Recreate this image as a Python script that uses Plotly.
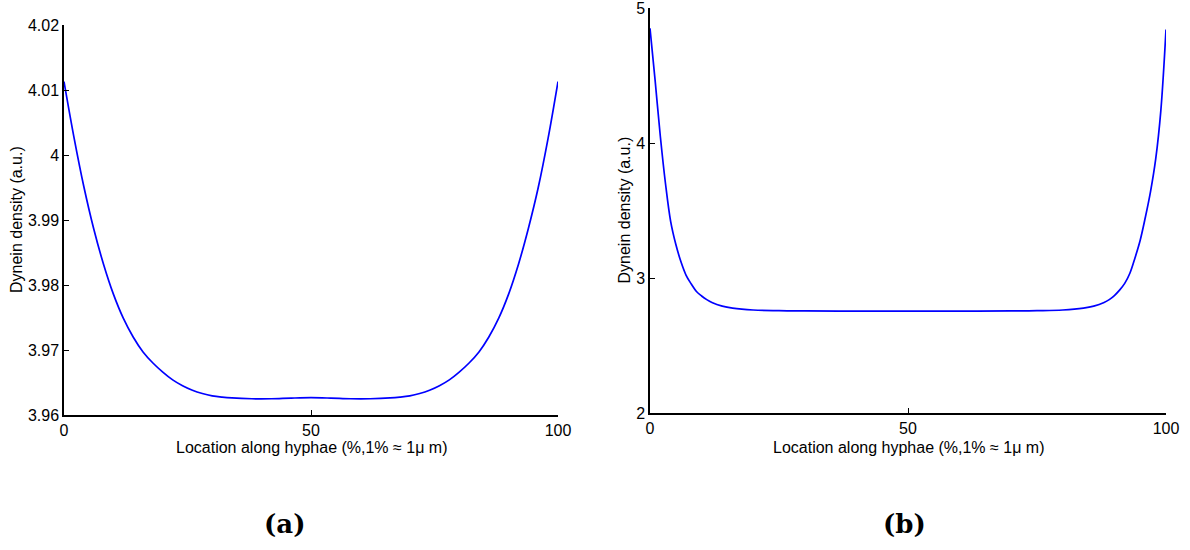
import plotly.graph_objects as go

# Panel (a)
xa = [0, 2, 4, 6, 8, 10, 12, 14, 16, 18, 20, 22, 24, 26, 28, 30, 32, 34, 38,
      42, 46, 50, 54, 58, 62, 66, 68, 70, 72, 74, 76, 78, 80, 82, 84, 86, 88,
      90, 92, 94, 96, 98, 100]
ya = [4.0113, 4.0028, 3.9952, 3.9887, 3.9832, 3.9786, 3.9749, 3.9720, 3.9697,
      3.9680, 3.9666, 3.9654, 3.9645, 3.9638, 3.9633, 3.96295, 3.96275,
      3.96262, 3.96250, 3.96250, 3.96260, 3.96266, 3.96260, 3.96250, 3.96250,
      3.96262, 3.96275, 3.96295, 3.9633, 3.9638, 3.9645, 3.9654, 3.9666,
      3.9680, 3.9697, 3.9720, 3.9749, 3.9786, 3.9832, 3.9887, 3.9950, 4.0026,
      4.0113]

# Panel (b)
xb = [0, 1, 2, 3, 4, 5, 6, 7, 8, 9, 10, 11, 12, 14, 16, 20, 25, 30, 40, 50,
      60, 70, 75, 80, 84, 86, 88, 89, 90, 91, 92, 93, 94, 95, 96, 97, 98, 99, 100]
yb = [4.85, 4.46, 4.05, 3.70, 3.42, 3.25, 3.12, 3.02, 2.955, 2.90, 2.867,
      2.840, 2.819, 2.792, 2.777, 2.763, 2.758, 2.756, 2.755, 2.755, 2.755,
      2.756, 2.758, 2.763, 2.777, 2.792, 2.819, 2.840, 2.870, 2.910, 2.960,
      3.035, 3.150, 3.280, 3.450, 3.640, 3.880, 4.240, 4.840]

ticks_a_vals = [3.96, 3.97, 3.98, 3.99, 4.0, 4.01, 4.02]
ticks_a_text = ["3.96", "3.97", "3.98", "3.99", "4", "4.01", "4.02"]
ticks_b_vals = [2, 3, 4, 5]
ticks_b_text = ["2", "3", "4", "5"]
xticks_vals = [0, 50, 100]
xticks_text = ["0", "50", "100"]

xlabel = "Location along hyphae (%,1% \u2248 1\u03bc m)"
ylabel = "Dynein density (a.u.)"
captions = ["(a)", "(b)"]

W, H = 1190, 550
FONT = "Liberation Sans, Arial, Helvetica, sans-serif"
FS = 16

fig = go.Figure()
fig.add_trace(go.Scatter(x=xa, y=ya, mode="lines",
                         line=dict(color="#0000ff", width=1.7, shape="spline", smoothing=1.0),
                         xaxis="x", yaxis="y", showlegend=False, hoverinfo="skip"))
fig.add_trace(go.Scatter(x=xb, y=yb, mode="lines",
                         line=dict(color="#0000ff", width=1.7, shape="spline", smoothing=1.0),
                         xaxis="x2", yaxis="y2", showlegend=False, hoverinfo="skip"))

# pixel geometry
a_left, a_right, a_top, a_bot = 64, 558, 25, 415
b_left, b_right, b_top, b_bot = 650, 1166, 8, 413

def xd(l, r):
    return [l / W, r / W]

def yd(t, b):
    return [(H - b) / H, (H - t) / H]

axis_common = dict(showgrid=False, zeroline=False, showline=True, linecolor="black",
                   linewidth=1.5, ticks="inside", ticklen=5, tickcolor="black",
                   tickwidth=1.2, automargin=False, ticklabeloverflow="allow",
                   tickfont=dict(family=FONT, size=FS, color="black"))

fig.update_layout(
    width=W, height=H, margin=dict(l=0, r=0, t=0, b=0, autoexpand=False),
    paper_bgcolor="white", plot_bgcolor="white",
    xaxis=dict(domain=xd(a_left, a_right), range=[0, 100], tickvals=xticks_vals,
               ticktext=xticks_text, anchor="y", **axis_common),
    yaxis=dict(domain=yd(a_top, a_bot), range=[3.96, 4.02], tickvals=ticks_a_vals,
               ticktext=ticks_a_text, anchor="x", **axis_common),
    xaxis2=dict(domain=xd(b_left, b_right), range=[0, 100], tickvals=xticks_vals,
                ticktext=xticks_text, anchor="y2", **axis_common),
    yaxis2=dict(domain=yd(b_top, b_bot), range=[2, 5], tickvals=ticks_b_vals,
                ticktext=ticks_b_text, anchor="x2", **axis_common),
)

ann = []
# x axis titles
for cx in [(a_left + a_right) / 2, (b_left + b_right) / 2]:
    ann.append(dict(x=cx / W, y=(H - 447) / H, xref="paper", yref="paper",
                    text=xlabel, showarrow=False, xanchor="center", yanchor="middle",
                    font=dict(family=FONT, size=FS, color="black")))
# y axis titles
for cx, cy in [(16, (a_top + a_bot) / 2), (624, (b_top + b_bot) / 2)]:
    ann.append(dict(x=cx / W, y=(H - cy) / H, xref="paper", yref="paper",
                    text=ylabel, showarrow=False, textangle=-90,
                    xanchor="center", yanchor="middle",
                    font=dict(family=FONT, size=FS, color="black")))
# captions
for cx, txt in zip([284, 904], captions):
    ann.append(dict(x=cx / W, y=(H - 524) / H, xref="paper", yref="paper",
                    text="<b>" + txt + "</b>", showarrow=False,
                    xanchor="center", yanchor="middle",
                    font=dict(family="DejaVu Serif, Liberation Serif, serif", size=26, color="black")))
fig.update_layout(annotations=ann)

fig.write_html("out.html")
